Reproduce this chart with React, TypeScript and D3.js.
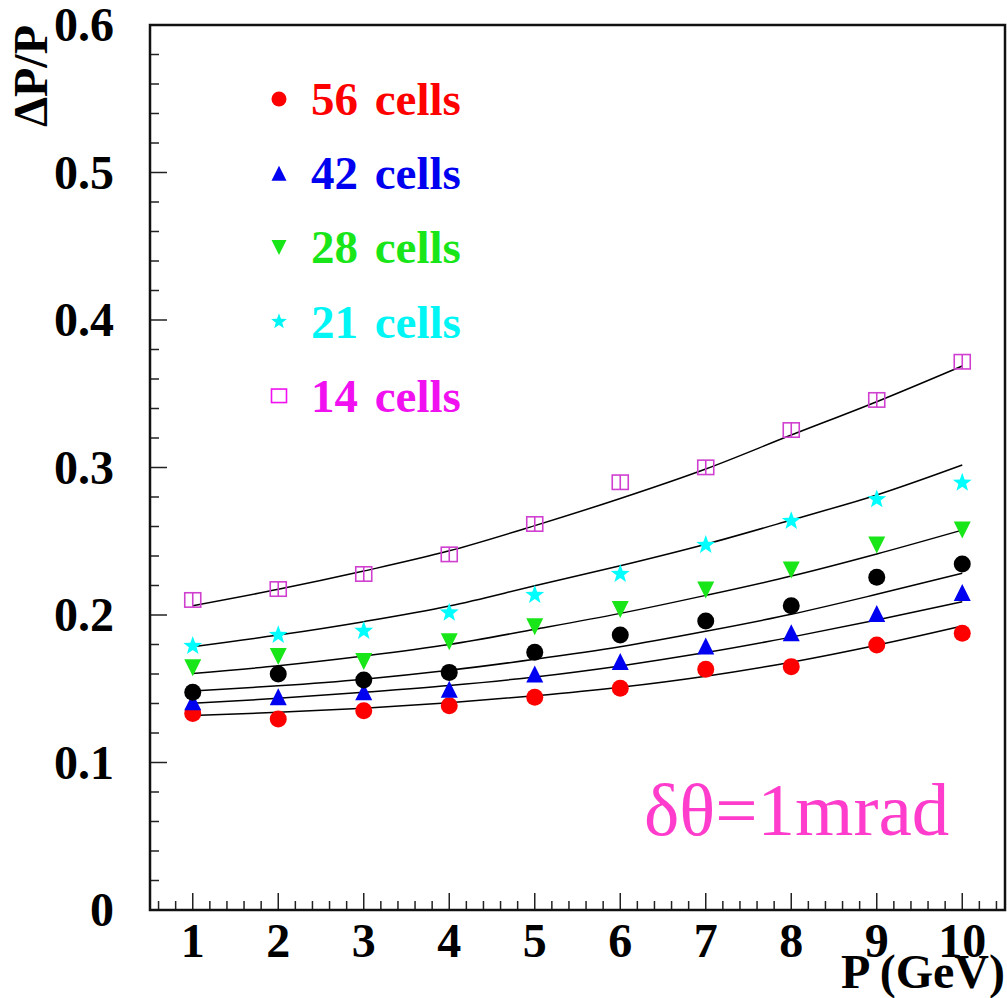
import React from "react";
import * as d3 from "d3";

const momenta = [1, 2, 3, 4, 5, 6, 7, 8, 9, 10];
const cells56 = [0.1333, 0.1295, 0.1351, 0.1385, 0.1442, 0.1503, 0.1632, 0.165, 0.1797, 0.1876];
const cells42 = [0.1412, 0.1446, 0.148, 0.1496, 0.16, 0.1684, 0.179, 0.188, 0.2011, 0.2153];
const cellsBlack = [0.1476, 0.16, 0.1559, 0.1611, 0.1747, 0.1864, 0.1959, 0.2063, 0.2256, 0.2346];
const cells28 = [0.1643, 0.1718, 0.1684, 0.1819, 0.192, 0.2038, 0.2169, 0.2305, 0.2475, 0.2576];
const cells21 = [0.179, 0.1864, 0.1892, 0.2016, 0.2136, 0.2278, 0.2475, 0.2637, 0.2784, 0.2897];
const cells14 = [0.2102, 0.2176, 0.2278, 0.2411, 0.2617, 0.29, 0.3001, 0.3254, 0.3458, 0.3717];

const fit56 = [0.1318, 0.134, 0.1368, 0.1405, 0.1452, 0.151, 0.1585, 0.168, 0.1795, 0.1925];
const fit42 = [0.1401, 0.1435, 0.1476, 0.1522, 0.158, 0.1655, 0.1745, 0.185, 0.1966, 0.209];
const fitBlack = [0.1485, 0.152, 0.1565, 0.1625, 0.17, 0.1785, 0.189, 0.2005, 0.214, 0.2283];
const fit28 = [0.1604, 0.1656, 0.1722, 0.18, 0.1903, 0.2011, 0.2133, 0.2264, 0.2414, 0.2576];
const fit21 = [0.1785, 0.1864, 0.1955, 0.2061, 0.2198, 0.2334, 0.248, 0.2644, 0.2814, 0.3017];
const fit14 = [0.2063, 0.2174, 0.2298, 0.2435, 0.2606, 0.279, 0.299, 0.322, 0.3446, 0.3688];

const yTickLabels = ["0", "0.1", "0.2", "0.3", "0.4", "0.5", "0.6"];
const xTickLabels = ["1", "2", "3", "4", "5", "6", "7", "8", "9", "10"];
const legendLabels = ["56 cells", "42 cells", "28 cells", "21 cells", "14 cells"];

type Shape = "circle" | "up" | "down" | "star" | "square";

const series: { vals: number[]; shape: Shape; color: string }[] = [
  { vals: cells56, shape: "circle", color: "#ff0000" },
  { vals: cells42, shape: "up", color: "#0000f0" },
  { vals: cells28, shape: "down", color: "#19e619" },
  { vals: cells21, shape: "star", color: "#00ffff" },
  { vals: cells14, shape: "square", color: "#d040d0" },
  { vals: cellsBlack, shape: "circle", color: "#000000" },
];
const legendColors = ["#ff0000", "#0000f0", "#19e619", "#00f5f5", "#f010f0"];
const legendShapes: Shape[] = ["circle", "up", "down", "star", "square"];
const fits = [fit56, fit42, fitBlack, fit28, fit21, fit14];

const W = 1007, H = 998;
const L = 150, R = 1005, T = 25, B = 910;
const x = d3.scaleLinear().domain([0.5, 10.5]).range([L, R]);
const y = d3.scaleLinear().domain([0, 0.6]).range([B, T]);
const serif = "'Liberation Serif', 'Times New Roman', Times, serif";

function starPath(cx: number, cy: number, ro: number, ri: number) {
  const pts: string[] = [];
  for (let i = 0; i < 10; i++) {
    const r = i % 2 === 0 ? ro : ri;
    const a = -Math.PI / 2 + (i * Math.PI) / 5;
    pts.push(`${cx + r * Math.cos(a)},${cy + r * Math.sin(a)}`);
  }
  return "M" + pts.join("L") + "Z";
}

function Marker({ cx, cy, shape, color, s, legend }: { cx: number; cy: number; shape: Shape; color: string; s: number; legend?: boolean }) {
  const h = s / 2;
  if (shape === "circle") return <circle cx={cx} cy={cy} r={h} fill={color} />;
  if (shape === "up")
    return <path d={`M${cx - h},${cy + h}L${cx + h},${cy + h}L${cx},${cy - h}Z`} fill={color} />;
  if (shape === "down")
    return <path d={`M${cx - h},${cy - h}L${cx + h},${cy - h}L${cx},${cy + h}Z`} fill={color} />;
  if (shape === "star") return <path d={starPath(cx, cy, h * 1.1, h * 0.45)} fill={color} />;
  return (
    <g stroke={color} strokeWidth={1.6} fill="none">
      <rect x={cx - h} y={cy - h * 0.9} width={s} height={s * 0.9} />
      {!legend && <line x1={cx} x2={cx} y1={cy - h * 0.9} y2={cy + h * 0.9} />}
    </g>
  );
}

export default function App() {
  const line = d3
    .line<number>()
    .x((_, i) => x(momenta[i]))
    .y((d) => y(d))
    .curve(d3.curveMonotoneX);

  const yMinor = d3.range(0, 0.6001, 0.02);
  const xMinor = d3.range(0.6, 10.41, 0.2);

  return (
    <svg width={W} height={H} style={{ position: "absolute", left: 0, top: 0, background: "#fff" }}>
      <rect x={0} y={0} width={W} height={H} fill="#fff" />
      {/* ticks */}
      {yMinor.map((v, i) => {
        const major = i % 5 === 0;
        return (
          <line key={"ym" + i} x1={L} x2={L + (major ? 17 : 9)} y1={y(v)} y2={y(v)} stroke="#222" strokeWidth={1.5} />
        );
      })}
      {xMinor.map((v, i) => {
        const major = Math.abs(v - Math.round(v)) < 1e-6;
        return (
          <line key={"xm" + i} x1={x(v)} x2={x(v)} y1={B} y2={B - (major ? 17 : 9)} stroke="#222" strokeWidth={1.5} />
        );
      })}
      <rect x={L} y={T} width={R - L} height={B - T} fill="none" stroke="#111" strokeWidth={2.5} />
      {/* tick labels */}
      {yTickLabels.map((t, i) => (
        <text key={"yl" + t} x={114} y={y(i * 0.1)} dy="0.34em" textAnchor="end" fontFamily={serif} fontWeight="bold" fontSize={48}>
          {t}
        </text>
      ))}
      {xTickLabels.map((t, i) => (
        <text key={"xl" + t} x={x(momenta[i])} y={957} textAnchor="middle" fontFamily={serif} fontWeight="bold" fontSize={48}>
          {t}
        </text>
      ))}
      {/* axis titles */}
      <text transform="translate(47,25) rotate(-90)" textAnchor="end" fontFamily={serif} fontWeight="bold" fontSize={48}>
        ΔP/P
      </text>
      <text x={1005} y={988} textAnchor="end" fontFamily={serif} fontWeight="bold" fontSize={48}>
        P (GeV)
      </text>
      {/* fits */}
      {fits.map((f, i) => (
        <path key={"f" + i} d={line(f) || ""} fill="none" stroke="#000" strokeWidth={1.5} />
      ))}
      {/* data points */}
      {series.map((s, si) =>
        s.vals.map((v, i) => (
          <Marker key={si + "-" + i} cx={x(momenta[i])} cy={y(v)} shape={s.shape} color={s.color} s={s.shape === "square" ? 16 : s.shape === "star" ? 18 : 17} />
        ))
      )}
      {/* legend */}
      {legendLabels.map((t, i) => {
        const base = 115 + i * 74.2;
        return (
          <g key={"lg" + t}>
            <Marker cx={279} cy={base - 16} shape={legendShapes[i]} color={legendColors[i]} s={15} legend />
            <text x={311} y={base} fontFamily={serif} fontWeight="bold" fontSize={47} wordSpacing={5} fill={legendColors[i]}>
              {t}
            </text>
          </g>
        );
      })}
      <text x={644} y={835} fontFamily={serif} fontSize={75} fill="#ff3ccc">
        δθ=1mrad
      </text>
    </svg>
  );
}
